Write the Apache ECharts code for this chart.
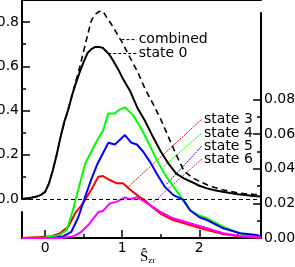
<!DOCTYPE html>
<html><head><meta charset="utf-8">
<script src="https://cdn.jsdelivr.net/npm/echarts@6/dist/echarts.min.js"></script>
<style>html,body{margin:0;padding:0;background:#fff}#c{width:295px;height:267px}</style>
</head><body><div id="c"></div>
<script>
// ---- axis ticks ----
const xMajorTicks = [0, 1, 2];
const xMinorTicks = [0.5, 1.5, 2.5];
const leftMajorTicks = [0, 0.2, 0.4, 0.6, 0.8];
const leftMinorTicks = [0.1, 0.3, 0.5, 0.7];
const rightMajorTicks = [0, 0.02, 0.04, 0.06, 0.08];
const rightMinorTicks = [0.01, 0.03, 0.05, 0.07];
const xAxisName = 'Ŝ';
const xAxisSub = 'zr';

// ---- black curves (left axis) ----
const blackX = [-0.3,-0.2,-0.1,-0.05,0,0.05,0.1,0.15,0.2,0.25,0.3,0.35,0.4,0.45,0.5,0.55,0.6,0.65,0.7,0.75,0.8,0.85,0.9,0.95,1.0,1.1,1.2,1.3,1.4,1.5,1.6,1.7,1.8,1.9,2.0,2.1,2.2,2.3,2.4,2.5,2.6,2.7,2.8];
const combinedY = [0,0.004,0.012,0.02,0.032,0.07,0.13,0.2,0.28,0.35,0.405,0.47,0.535,0.597,0.67,0.74,0.808,0.835,0.848,0.85,0.82,0.795,0.767,0.737,0.708,0.64,0.575,0.495,0.43,0.36,0.28,0.2,0.128,0.098,0.08,0.064,0.052,0.042,0.034,0.028,0.024,0.021,0.02];
const state0Y = [0,0.004,0.012,0.02,0.032,0.07,0.13,0.2,0.28,0.35,0.405,0.47,0.525,0.575,0.62,0.66,0.678,0.688,0.688,0.683,0.665,0.645,0.615,0.585,0.55,0.49,0.41,0.35,0.28,0.215,0.16,0.115,0.093,0.077,0.06,0.048,0.04,0.033,0.027,0.022,0.018,0.014,0.011];

// ---- coloured curves (right axis) ----
const state3X = [-0.3,0.06,0.19,0.30,0.39,0.49,0.60,0.69,0.75,0.84,0.93,1.01,1.10,1.19,1.23,1.29,1.36,1.49,1.66,1.88,2.10,2.31,2.53,2.8];
const state3Y = [0,0.0008,0.0027,0.0065,0.0143,0.020,0.028,0.0354,0.0358,0.0335,0.0316,0.0316,0.028,0.0249,0.0235,0.022,0.019,0.0143,0.0104,0.0075,0.0046,0.0023,0.0008,0.0];
const state4X = [-0.3,0,0.19,0.28,0.36,0.43,0.52,0.6,0.67,0.75,0.82,0.905,0.96,1.035,1.14,1.25,1.34,1.45,1.55,1.66,1.79,1.88,2.0,2.1,2.2,2.31,2.42,2.53,2.64,2.75,2.8];
const state4Y = [0,0.0003,0.0017,0.0046,0.016,0.028,0.043,0.05,0.056,0.062,0.072,0.072,0.074,0.0755,0.071,0.063,0.055,0.045,0.037,0.030,0.022,0.016,0.013,0.0114,0.009,0.0065,0.0045,0.0027,0.0015,0.0008,0.0005];
const state5X = [-0.3,0.1,0.23,0.34,0.43,0.52,0.6,0.67,0.75,0.82,0.905,1.035,1.12,1.19,1.27,1.36,1.45,1.55,1.66,1.79,1.88,2.0,2.1,2.31,2.53,2.75,2.8];
const state5Y = [0,0.0002,0.0008,0.0036,0.012,0.024,0.034,0.042,0.049,0.055,0.054,0.0595,0.055,0.054,0.050,0.044,0.037,0.0297,0.0249,0.022,0.016,0.012,0.0104,0.0056,0.0027,0.0017,0.0005];
const state6X = [-0.3,0.19,0.36,0.47,0.56,0.69,0.75,0.84,0.93,1.035,1.10,1.19,1.27,1.36,1.49,1.66,1.88,2.10,2.31,2.53,2.8];
const state6Y = [0,0,0.0008,0.0036,0.0075,0.015,0.0156,0.020,0.021,0.0235,0.0224,0.0235,0.0216,0.019,0.0152,0.0114,0.0085,0.0056,0.0027,0.0012,0.0003];

// ---- label leader lines (data units) ----
const leaderCombined = [[0.99,0.721],[1.187,0.721]];
const leaderState0 = [[0.818,0.658],[1.187,0.658]];
const leaderState3 = [[1.057,0.0287],[2.035,0.0688]];
const leaderState4 = [[1.532,0.0412],[2.035,0.0607]];
const leaderState5 = [[1.577,0.0312],[2.035,0.0532]];
const leaderState6 = [[1.403,0.0208],[2.035,0.0457]];

const zip = (xs, ys) => xs.map((x, i) => [x, ys[i]]);
const FONT = 'DejaVu Sans';
const axLine = {show: true, onZero: false, lineStyle: {color: '#000', width: 2}};
const noLine = {show: false, onZero: false};
const xMin = -0.3, xMax = 2.8;

function curve(name, xs, ys, color, xi, yi, extra) {
  return Object.assign({
    name, type: 'line', xAxisIndex: xi, yAxisIndex: yi, data: zip(xs, ys),
    showSymbol: false, symbol: 'none', lineStyle: {color, width: 2}, z: 3
  }, extra || {});
}
function leader(label, pts, color, xi, yi, dash) {
  return {
    type: 'line', xAxisIndex: xi, yAxisIndex: yi, data: pts, symbol: 'none',
    lineStyle: {color, width: 1, type: dash}, z: 2, silent: true,
    endLabel: {show: true, formatter: label, color: '#000', fontSize: 14, fontFamily: FONT, distance: 2}
  };
}

const chart = echarts.init(document.getElementById('c'), null, {renderer: 'canvas'});
chart.setOption({
  animation: false,
  backgroundColor: '#fff',
  grid: [
    {left: 22, right: 34, top: 0, bottom: 68, outerBoundsMode: 'none', containLabel: false},
    {left: 22, right: 34, top: 13, bottom: 29, outerBoundsMode: 'none', containLabel: false},
    {left: 22, right: 34, top: 212, bottom: 29, outerBoundsMode: 'none', containLabel: false}
  ],
  graphic: [{
    type: 'text', left: 140, top: 250, z: 10,
    style: {
      text: '{s|' + xAxisName + '}{z|' + xAxisSub + '}',
      rich: {
        s: {fontFamily: 'Liberation Serif', fontSize: 15, lineHeight: 17, fill: '#000', verticalAlign: 'bottom'},
        z: {fontFamily: 'Liberation Serif', fontSize: 9, lineHeight: 17, fill: '#000', verticalAlign: 'bottom'}
      }
    }
  }],
  xAxis: [
    {gridIndex: 0, type: 'value', min: xMin, max: xMax, position: 'top', axisLine: axLine,
     axisTick: {show: false}, axisLabel: {show: false}, splitLine: {show: false}},
    {gridIndex: 1, type: 'value', min: xMin, max: xMax, position: 'bottom', axisLine: axLine,
     axisTick: {show: true, inside: true, length: 8, customValues: xMajorTicks, lineStyle: {color: '#000', width: 1.5}},
     axisLabel: {show: true, customValues: xMajorTicks, color: '#000', fontSize: 14, fontFamily: FONT, margin: 3},
     splitLine: {show: false}},
    {gridIndex: 1, type: 'value', min: xMin, max: xMax, position: 'bottom', axisLine: noLine,
     axisTick: {show: true, inside: true, length: 4, customValues: xMinorTicks, lineStyle: {color: '#000', width: 1.5}},
     axisLabel: {show: false}, splitLine: {show: false}},
    {gridIndex: 2, type: 'value', min: xMin, max: xMax, show: false}
  ],
  yAxis: [
    {gridIndex: 0, type: 'value', min: 0, max: 0.9, position: 'left', axisLine: axLine,
     axisTick: {show: true, inside: true, length: 8, customValues: leftMajorTicks, lineStyle: {color: '#000', width: 1.5}},
     axisLabel: {show: true, customValues: leftMajorTicks, formatter: v => v.toFixed(1), color: '#000', fontSize: 14, fontFamily: FONT, margin: 3},
     splitLine: {show: false}},
    {gridIndex: 0, type: 'value', min: 0, max: 0.9, position: 'left', axisLine: noLine,
     axisTick: {show: true, inside: true, length: 4, customValues: leftMinorTicks, lineStyle: {color: '#000', width: 1.5}},
     axisLabel: {show: false}, splitLine: {show: false}},
    {gridIndex: 1, type: 'value', min: 0, max: 0.13, position: 'right', axisLine: axLine,
     axisTick: {show: true, inside: true, length: 8, customValues: rightMajorTicks, lineStyle: {color: '#000', width: 1.5}},
     axisLabel: {show: true, customValues: rightMajorTicks, formatter: v => v.toFixed(2), color: '#000', fontSize: 14, fontFamily: FONT, margin: 3},
     splitLine: {show: false}},
    {gridIndex: 1, type: 'value', min: 0, max: 0.13, position: 'right', axisLine: noLine,
     axisTick: {show: true, inside: true, length: 4, customValues: rightMinorTicks, lineStyle: {color: '#000', width: 1.5}},
     axisLabel: {show: false}, splitLine: {show: false}},
    {gridIndex: 2, type: 'value', min: 0, max: 1, position: 'left', axisLine: axLine,
     axisTick: {show: false}, axisLabel: {show: false}, splitLine: {show: false}}
  ],
  series: [
    curve('state 3', state3X, state3Y, '#ff0000', 1, 2),
    curve('state 4', state4X, state4Y, '#00ff00', 1, 2),
    curve('state 5', state5X, state5Y, '#0000ff', 1, 2),
    curve('state 6', state6X, state6Y, '#ff00ff', 1, 2),
    curve('combined', blackX, combinedY, '#000', 0, 0, {lineStyle: {color: '#000', width: 1.6, type: [6, 4]}}),
    curve('state 0', blackX, state0Y, '#000', 0, 0, {markLine: {silent: true, symbol: 'none', label: {show: false},
      lineStyle: {type: [4, 3], color: '#000', width: 1}, data: [{yAxis: 0}]}}),
    leader('combined', leaderCombined, '#000', 0, 0, [3, 2]),
    leader('state 0', leaderState0, '#000', 0, 0, [3, 2]),
    leader('state 3', leaderState3, '#ff0000', 1, 2, [2, 1]),
    leader('state 4', leaderState4, '#00ff00', 1, 2, [2, 1]),
    leader('state 5', leaderState5, '#0000ff', 1, 2, [2, 1]),
    leader('state 6', leaderState6, '#ff00ff', 1, 2, [2, 1])
  ]
});
</script></body></html>
